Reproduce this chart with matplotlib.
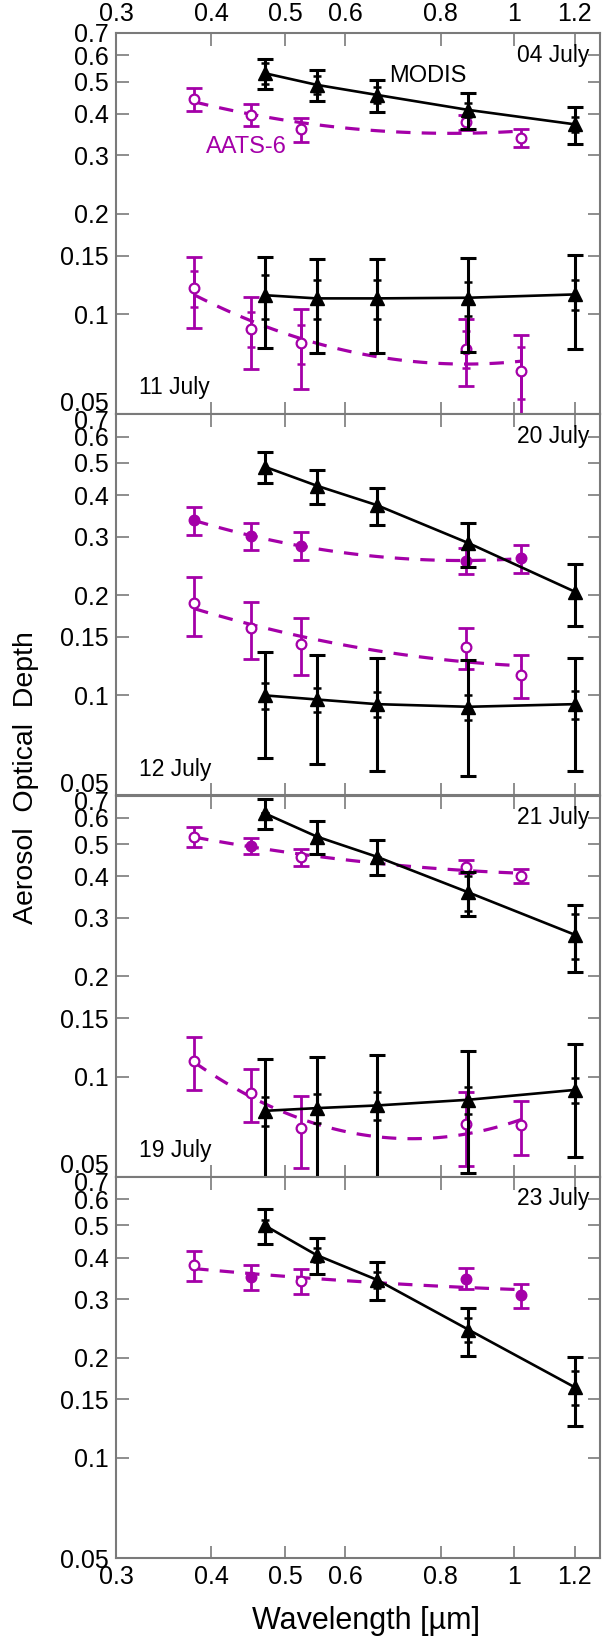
import numpy as np
import matplotlib
matplotlib.use("Agg")
import matplotlib.pyplot as plt
from matplotlib.ticker import FixedLocator, FixedFormatter, NullLocator
from matplotlib.transforms import ScaledTranslation

plt.rcParams['font.family'] = ['Liberation Sans', 'DejaVu Sans']

# ---------------- data ----------------
aats_wl = [0.38, 0.451, 0.525, 0.864, 1.021]
modis_wl = [0.47, 0.55, 0.66, 0.87, 1.2]

x_ticks = [0.3, 0.4, 0.5, 0.6, 0.8, 1.0, 1.2]
x_ticklabels = ["0.3", "0.4", "0.5", "0.6", "0.8", "1", "1.2"]
y_ticks = [0.05, 0.1, 0.15, 0.2, 0.3, 0.4, 0.5, 0.6, 0.7]
y_ticklabels = ["0.05", "0.1", "0.15", "0.2", "0.3", "0.4", "0.5", "0.6", "0.7"]

# 04 July
modis_0704 = [0.530, 0.489, 0.456, 0.411, 0.372]
modis_0704_err = [0.056, 0.053, 0.050, 0.050, 0.048]
modis_0704_sd = [0.037, 0.030, 0.025, 0.020, 0.020]
aats_0704 = [0.444, 0.397, 0.360, 0.377, 0.339]
aats_0704_err = [0.035, 0.030, 0.030, 0.020, 0.022]
aats_0704_sd = [0.0, 0.0, 0.0, 0.0, 0.0]
aats_0704_fill = [False, False, False, False, False]

# 11 July
modis_0711 = [0.114, 0.1115, 0.1115, 0.112, 0.1146]
modis_0711_err = [0.035, 0.035, 0.035, 0.035, 0.036]
modis_0711_sd = [0.017, 0.015, 0.015, 0.013, 0.012]
aats_0711 = [0.120, 0.0905, 0.0816, 0.0788, 0.0674]
aats_0711_err = [0.029, 0.022, 0.022, 0.018, 0.019]
aats_0711_sd = [0.015, 0.011, 0.011, 0.010, 0.012]
aats_0711_fill = [False, False, False, False, False]

# 20 July
modis_0720 = [0.487, 0.427, 0.373, 0.287, 0.205]
modis_0720_err = [0.053, 0.050, 0.048, 0.043, 0.043]
modis_0720_sd = [0.0, 0.0, 0.0, 0.0, 0.0]
aats_0720 = [0.336, 0.301, 0.282, 0.254, 0.258]
aats_0720_err = [0.032, 0.028, 0.027, 0.023, 0.025]
aats_0720_sd = [0.0, 0.0, 0.0, 0.0, 0.0]
aats_0720_fill = [True, True, True, True, True]

# 12 July
modis_0712 = [0.100, 0.0972, 0.0941, 0.0924, 0.0941]
modis_0712_err = [0.035, 0.035, 0.035, 0.035, 0.035]
modis_0712_sd = [0.009, 0.008, 0.008, 0.008, 0.009]
aats_0712 = [0.189, 0.1596, 0.143, 0.1398, 0.115]
aats_0712_err = [0.038, 0.031, 0.028, 0.020, 0.017]
aats_0712_sd = [0.0, 0.0, 0.0, 0.0, 0.0]
aats_0712_fill = [False, False, False, False, False]

# 21 July
modis_0721 = [0.619, 0.527, 0.458, 0.358, 0.267]
modis_0721_err = [0.065, 0.060, 0.055, 0.055, 0.060]
modis_0721_sd = [0.0, 0.0, 0.0, 0.043, 0.042]
aats_0721 = [0.527, 0.494, 0.456, 0.428, 0.402]
aats_0721_err = [0.036, 0.028, 0.027, 0.020, 0.020]
aats_0721_sd = [0.0, 0.0, 0.0, 0.0, 0.0]
aats_0721_fill = [False, True, False, False, False]

# 19 July
modis_0719 = [0.0789, 0.0804, 0.0819, 0.0852, 0.0912]
modis_0719_err = [0.034, 0.034, 0.034, 0.034, 0.034]
modis_0719_sd = [0.008, 0.008, 0.008, 0.008, 0.008]
aats_0719 = [0.1114, 0.0891, 0.0703, 0.072, 0.0713]
aats_0719_err = [0.020, 0.016, 0.017, 0.018, 0.013]
aats_0719_sd = [0.0, 0.0, 0.0, 0.0, 0.0]
aats_0719_fill = [False, False, False, False, False]

# 23 July
modis_0723 = [0.500, 0.407, 0.343, 0.243, 0.163]
modis_0723_err = [0.060, 0.050, 0.045, 0.040, 0.038]
modis_0723_sd = [0.020, 0.020, 0.020, 0.020, 0.019]
aats_0723 = [0.380, 0.350, 0.340, 0.346, 0.308]
aats_0723_err = [0.040, 0.030, 0.030, 0.025, 0.025]
aats_0723_sd = [0.0, 0.0, 0.0, 0.0, 0.0]
aats_0723_fill = [False, True, False, True, True]

# panel layout: (top day, bottom day)
panel_days = [("04 July", "11 July"), ("20 July", "12 July"),
              ("21 July", "19 July"), ("23 July", None)]
day_data = {
    "04 July": (modis_0704, modis_0704_err, modis_0704_sd, aats_0704, aats_0704_err, aats_0704_sd, aats_0704_fill),
    "11 July": (modis_0711, modis_0711_err, modis_0711_sd, aats_0711, aats_0711_err, aats_0711_sd, aats_0711_fill),
    "20 July": (modis_0720, modis_0720_err, modis_0720_sd, aats_0720, aats_0720_err, aats_0720_sd, aats_0720_fill),
    "12 July": (modis_0712, modis_0712_err, modis_0712_sd, aats_0712, aats_0712_err, aats_0712_sd, aats_0712_fill),
    "21 July": (modis_0721, modis_0721_err, modis_0721_sd, aats_0721, aats_0721_err, aats_0721_sd, aats_0721_fill),
    "19 July": (modis_0719, modis_0719_err, modis_0719_sd, aats_0719, aats_0719_err, aats_0719_sd, aats_0719_fill),
    "23 July": (modis_0723, modis_0723_err, modis_0723_sd, aats_0723, aats_0723_err, aats_0723_sd, aats_0723_fill),
}

MAG = '#A400A8'
SPINE = '#7a7a7a'
FS = 16.5
TFS = 18

W, H = 604, 1637
fig = plt.figure(figsize=(W / 100, H / 100), dpi=100)

left_px, right_px, top_px, bot_px = 116, 600, 33, 1558
ph = (bot_px - top_px) / 4.0
axes = []
for i in range(4):
    y0 = top_px + i * ph
    rect = [left_px / W, 1 - (y0 + ph) / H, (right_px - left_px) / W, ph / H]
    ax = fig.add_axes(rect)
    axes.append(ax)


def draw_day(ax, name):
    m, me, ms, a, ae, asd, fills = day_data[name]
    # AATS
    ax.errorbar(aats_wl, a, yerr=ae, fmt='none', ecolor=MAG, elinewidth=2.0,
                capsize=5.5, capthick=2.0, zorder=2)
    if any(v > 0 for v in asd):
        ax.errorbar(aats_wl, a, yerr=asd, fmt='none', ecolor=MAG, elinewidth=2.0,
                    capsize=3, capthick=1.8, zorder=2)
    # quadratic fit in log-log space for the AATS spectrum
    la, lt = np.log(aats_wl), np.log(a)
    coef = np.polyfit(la, lt, 2)
    xs = np.linspace(la[0], la[-1], 100)
    ax.plot(np.exp(xs), np.exp(np.polyval(coef, xs)), color=MAG, lw=2.3,
            ls=(0, (4.5, 3.5)), zorder=2)
    for xw, yv, f in zip(aats_wl, a, fills):
        ax.plot([xw], [yv], ls='none', marker='o', ms=7, mew=1.6,
                mfc=MAG if f else 'white', mec=MAG, zorder=3)
    # MODIS
    ax.errorbar(modis_wl, m, yerr=me, fmt='none', ecolor='black', elinewidth=2.2,
                capsize=6, capthick=2.2, zorder=4)
    if any(v > 0 for v in ms):
        ax.errorbar(modis_wl, m, yerr=ms, fmt='none', ecolor='black', elinewidth=2.2,
                    capsize=3, capthick=1.8, zorder=4)
    ax.plot(modis_wl, m, color='black', lw=1.9, marker='^', ms=10,
            mfc='black', mec='black', zorder=5)


for i, ax in enumerate(axes):
    top_day, bot_day = panel_days[i]
    draw_day(ax, top_day)
    if bot_day:
        draw_day(ax, bot_day)
    ax.set_xscale('log')
    ax.set_yscale('log')
    ax.set_xlim(0.3, 1.295)
    ax.set_ylim(0.05, 0.7)
    ax.xaxis.set_major_locator(FixedLocator(x_ticks))
    ax.xaxis.set_major_formatter(FixedFormatter(x_ticklabels))
    ax.xaxis.set_minor_locator(NullLocator())
    ax.yaxis.set_major_locator(FixedLocator(y_ticks))
    ax.yaxis.set_major_formatter(FixedFormatter(y_ticklabels))
    ax.yaxis.set_minor_locator(NullLocator())
    ax.tick_params(axis='both', which='major', direction='in', length=9, width=1.2,
                   color=SPINE, labelsize=TFS, labelcolor='black',
                   top=True, bottom=True, left=True, right=True,
                   labelleft=True, labelright=False,
                   labeltop=(i == 0), labelbottom=(i == 3), pad=5)
    # stacked boundary labels: raise the lower "0.05", lower the upper "0.7"
    ticks = ax.yaxis.get_major_ticks()
    if i < 3:
        ticks[0].label1.set_transform(ticks[0].label1.get_transform() +
                                      ScaledTranslation(0, 13 / 100, fig.dpi_scale_trans))
    if i > 0:
        ticks[-1].label1.set_transform(ticks[-1].label1.get_transform() +
                                       ScaledTranslation(0, -5 / 100, fig.dpi_scale_trans))
    for sp in ax.spines.values():
        sp.set_color(SPINE)
        sp.set_linewidth(1.5)
    ax.text(0.978, 0.942, top_day, transform=ax.transAxes, ha='right', va='center',
            fontsize=FS, color='black', zorder=6)
    if bot_day:
        ax.text(0.047, 0.069, bot_day, transform=ax.transAxes, ha='left', va='center',
                fontsize=FS, color='black', zorder=6)

axes[0].text(0.684, 0.518, "MODIS", ha='left', va='center', fontsize=FS + 0.5, color='black', zorder=6)
axes[0].text(0.394, 0.317, "AATS-6", ha='left', va='center', fontsize=FS + 0.5, color=MAG, zorder=6)

fig.text(26 / W, 1 - 778 / H, "Aerosol  Optical  Depth", rotation=90, ha='center', va='center',
         fontsize=20.5, color='black')
fig.text(366 / W, 1 - 1621 / H, "Wavelength [µm]", ha='center', va='center',
         fontsize=22, color='black')

fig.savefig("out.png", dpi=100)
